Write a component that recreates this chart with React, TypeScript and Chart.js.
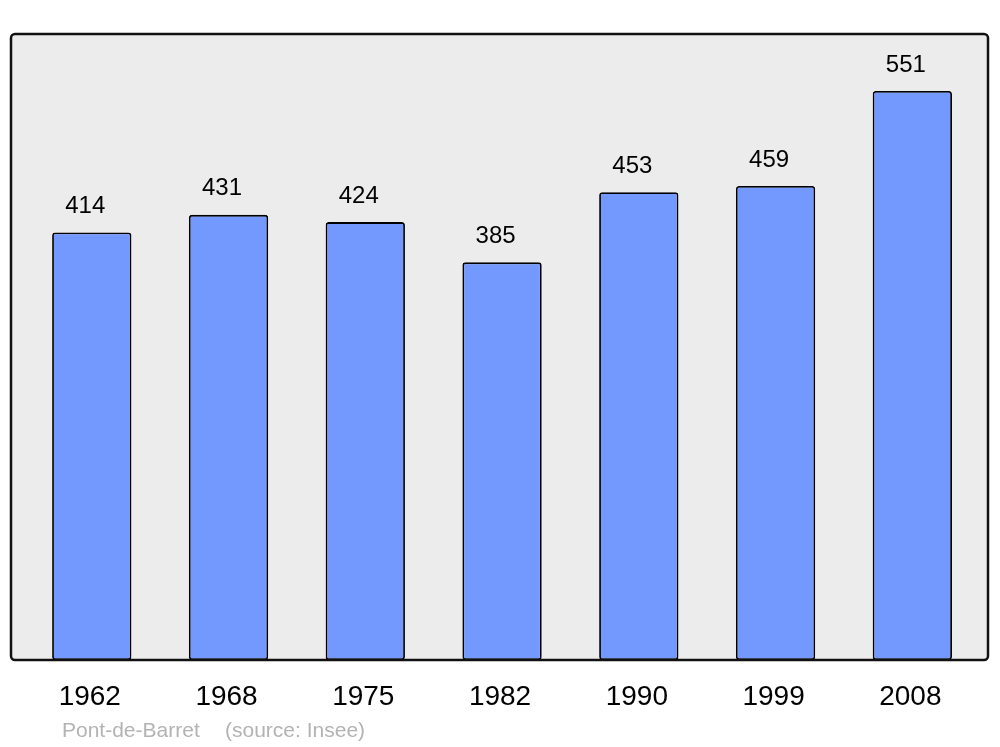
import React, { useEffect, useRef } from "react";
import { Chart, registerables } from "chart.js";

Chart.register(...registerables);

const years = ["1962", "1968", "1975", "1982", "1990", "1999", "2008"];
const population = [414, 431, 424, 385, 453, 459, 551];
const footerName = "Pont-de-Barret";
const footerSource = "(source: Insee)";

function roundRect(ctx: CanvasRenderingContext2D, x: number, y: number, w: number, h: number, r: number) {
  ctx.beginPath();
  ctx.moveTo(x + r, y);
  ctx.lineTo(x + w - r, y);
  ctx.arcTo(x + w, y, x + w, y + r, r);
  ctx.lineTo(x + w, y + h - r);
  ctx.arcTo(x + w, y + h, x + w - r, y + h, r);
  ctx.lineTo(x + r, y + h);
  ctx.arcTo(x, y + h, x, y + h - r, r);
  ctx.lineTo(x, y + r);
  ctx.arcTo(x, y, x + r, y, r);
  ctx.closePath();
}

const decorPlugin = {
  id: "decor",
  beforeDatasetsDraw(chart: any) {
    const ctx = chart.ctx as CanvasRenderingContext2D;
    ctx.save();
    roundRect(ctx, 11, 34, 977, 626, 4);
    ctx.fillStyle = "#ececec";
    ctx.fill();
    ctx.restore();
  },
  afterDatasetsDraw(chart: any) {
    const ctx = chart.ctx as CanvasRenderingContext2D;
    ctx.save();
    roundRect(ctx, 11, 34, 977, 626, 4);
    ctx.lineWidth = 2.5;
    ctx.strokeStyle = "#111";
    ctx.stroke();

    const meta = chart.getDatasetMeta(0);
    ctx.fillStyle = "#000";
    ctx.textAlign = "center";
    ctx.textBaseline = "middle";
    ctx.font = "24px 'Liberation Sans', Arial, sans-serif";
    meta.data.forEach((bar: any, i: number) => {
      ctx.fillText(String(population[i]), bar.x - 6.5, bar.y - 26);
    });
    ctx.font = "28px 'Liberation Sans', Arial, sans-serif";
    meta.data.forEach((bar: any, i: number) => {
      ctx.fillText(years[i], bar.x - 2, 697);
    });
    ctx.font = "21px 'Liberation Sans', Arial, sans-serif";
    ctx.fillStyle = "#b3b3b3";
    ctx.textAlign = "left";
    ctx.fillText(footerName, 62, 731);
    ctx.fillText(footerSource, 225, 731);
    ctx.restore();
  },
};

export default function App() {
  const ref = useRef<HTMLCanvasElement>(null);
  useEffect(() => {
    if (!ref.current) return;
    const chart = new Chart(ref.current, {
      type: "bar",
      data: {
        labels: years,
        datasets: [
          {
            data: population,
            backgroundColor: "#7399ff",
            borderColor: "#000",
            borderWidth: 1.8,
            borderRadius: 3,
            borderSkipped: false,
            barPercentage: 0.58,
            categoryPercentage: 1,
          },
        ],
      },
      plugins: [decorPlugin],
      options: {
        responsive: false,
        animation: false,
        layout: { padding: { left: 23.4, right: 19.3, top: 34, bottom: 87 } },
        plugins: { legend: { display: false }, tooltip: { enabled: false } },
        scales: {
          x: { display: false },
          y: { display: false, min: 0, max: 606.1 },
        },
      },
    });
    return () => chart.destroy();
  }, []);
  return (
    <div style={{ position: "absolute", left: 0, top: 0, width: 1000, height: 747, background: "#fff" }}>
      <canvas ref={ref} width={1000} height={747} style={{ display: "block" }} />
    </div>
  );
}
